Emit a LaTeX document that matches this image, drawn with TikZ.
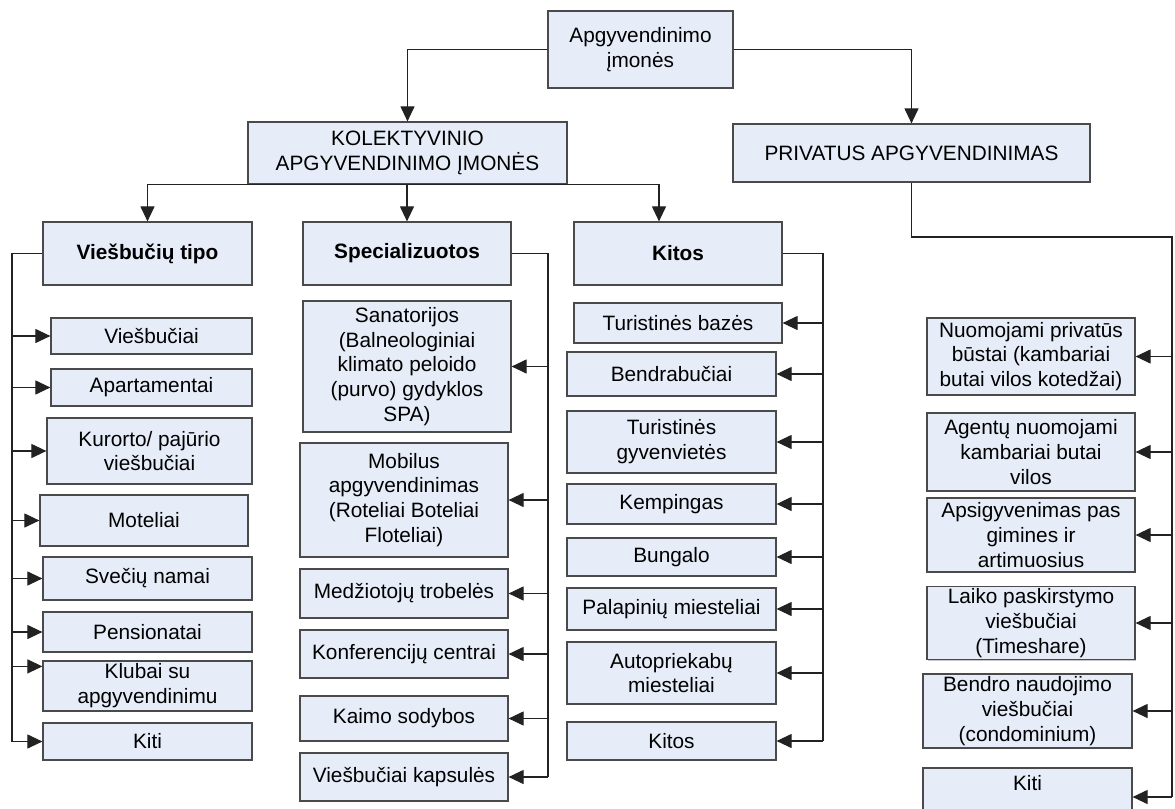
\documentclass[tikz,border=0pt]{standalone}
\usepackage{fontspec}
\setmainfont{Liberation Sans}
\usetikzlibrary{shadows, arrows.meta}
\definecolor{boxfill}{HTML}{E6EDF8}
\definecolor{boxline}{HTML}{4A4A4A}
\definecolor{wire}{HTML}{222222}

\begin{document}
\begin{tikzpicture}[
    x=0.5pt, y=-0.5pt,
    box/.style={
      draw=boxline, fill=boxfill, line width=0.6pt,
      inner sep=1pt, align=center,
      font=\fontsize{10.4}{12.4}\selectfont,
      drop shadow={shadow xshift=0.6pt, shadow yshift=-0.6pt, opacity=0.45}
    },
    head/.style={box, font=\fontsize{10.4}{12.4}\selectfont\bfseries},
    sz/.style 2 args={minimum width=#1*0.5pt, minimum height=#2*0.5pt},
    line/.style={wire, line width=0.55pt},
    arrow/.style={line, -{Triangle[length=7.5pt, width=7pt]}}
  ]
  \useasboundingbox (0,0) rectangle (1175,809);
  \clip (0,0) rectangle (1175,809);

  % top levels
  \node[box, sz={185}{77}] (top) at (640.5,49.5) {Apgyvendinimo\\įmonės};
  \node[box, sz={319}{62}] (kol) at (407.5,153) {KOLEKTYVINIO\\APGYVENDINIMO ĮMONĖS};
  \node[box, sz={357}{58}] (priv) at (911.5,153) {PRIVATUS APGYVENDINIMAS};

  \node[head, sz={209}{63}] (vt) at (147.5,253.5) {Viešbučių tipo};
  \node[head, sz={208}{63}] (sp) at (407,253.5) {Specializuotos};
  \node[head, sz={208}{63}] (ki) at (678,253.5) {Kitos};

  % viesbuciu tipo
  \node[box, sz={201}{36}] (v1) at (151.5,336) {Viešbučiai};
  \node[box, sz={201}{37}] (v2) at (151.5,387.5) {Apartamentai};
  \node[box, sz={205}{66}] (v3) at (149.5,451) {Kurorto/ pajūrio\\viešbučiai};
  \node[box, sz={208}{51}] (v4) at (144,520.5) {Moteliai};
  \node[box, sz={209}{43}] (v5) at (147.5,578.5) {Svečių namai};
  \node[box, sz={209}{40}] (v6) at (147.5,632) {Pensionatai};
  \node[box, sz={209}{50}] (v7) at (147.5,686) {Klubai su\\apgyvendinimu};
  \node[box, sz={209}{37}] (v8) at (147.5,741.5) {Kiti};

  % specializuotos
  \node[box, sz={208}{131}] (s1) at (407,366.5) {Sanatorijos\\(Balneologiniai\\klimato peloido\\(purvo) gydyklos\\SPA)};
  \node[box, sz={208}{114}] (s2) at (404,500) {Mobilus\\apgyvendinimas\\(Roteliai Boteliai\\Floteliai)};
  \node[box, sz={208}{49}] (s3) at (404,593.5) {Medžiotojų trobelės};
  \node[box, sz={208}{48}] (s4) at (404,654) {Konferencijų centrai};
  \node[box, sz={208}{45}] (s5) at (404,718.5) {Kaimo sodybos};
  \node[box, sz={208}{48}] (s6) at (404,777) {Viešbučiai kapsulės};

  % kitos
  \node[box, sz={208}{40}] (k1) at (678,323) {Turistinės bazės};
  \node[box, sz={209}{44}] (k2) at (671.5,374) {Bendrabučiai};
  \node[box, sz={209}{62}] (k3) at (671.5,442) {Turistinės\\gyvenvietės};
  \node[box, sz={209}{40}] (k4) at (671.5,504) {Kempingas};
  \node[box, sz={209}{38}] (k5) at (671.5,557) {Bungalo};
  \node[box, sz={209}{42}] (k6) at (671.5,609) {Palapinių miesteliai};
  \node[box, sz={209}{62}] (k7) at (671.5,673) {Autopriekabų\\miesteliai};
  \node[box, sz={209}{38}] (k8) at (671.5,741) {Kitos};

  % privatus
  \node[box, sz={208}{77}] (p1) at (1031,356.5) {Nuomojami privatūs\\būstai (kambariai\\butai vilos kotedžai)};
  \node[box, sz={208}{78}] (p2) at (1031,452) {Agentų nuomojami\\kambariai butai\\vilos};
  \node[box, sz={208}{74}] (p3) at (1031,535) {Apsigyvenimas pas\\gimines ir\\artimuosius};
  \node[box, sz={208}{72}] (p4) at (1031,623) {Laiko paskirstymo\\viešbučiai\\(Timeshare)};
  \node[box, sz={209}{74}] (p5) at (1027.5,711) {Bendro naudojimo\\viešbučiai\\(condominium)};
  \node[box, sz={209}{58}, text depth=14pt] (p6) at (1027.5,797) {Kiti};

  \coordinate (lbus) at (12,0);
  \coordinate (sbus) at (548,0);
  \coordinate (kbus) at (823,0);
  \coordinate (rbus) at (1172,237);
  \coordinate (v7in) at ([yshift=-3pt]v7.north west);

  \draw[arrow] (top.west) -| (kol.north);
  \draw[arrow] (top.east) -| (priv.north);
  \draw[arrow] (kol.south) -| (vt.north);
  \draw[arrow] (kol.south -| sp.north) -- (sp.north);
  \draw[arrow] (kol.south) -| ([xshift=-9.5pt]ki.north);

  \draw[line] (vt.west) -| (lbus |- v8.west);
  \foreach \n in {v1,v2,v3,v4,v5,v6,v8}
    \draw[arrow] (lbus |- \n.west) -- (\n.west);
  \draw[arrow] (lbus |- v7in) -- (v7in);

  \draw[line] (sp.east) -| (sbus |- s6.east);
  \foreach \n in {s1,s2,s3,s4,s5,s6}
    \draw[arrow] (sbus |- \n.east) -- (\n.east);

  \draw[line] (ki.east) -| (kbus |- k8.east);
  \foreach \n in {k1,k2,k3,k4,k5,k6,k7,k8}
    \draw[arrow] (kbus |- \n.east) -- (\n.east);

  \draw[line] (priv.south) |- (rbus) -- (rbus |- p6.east);
  \foreach \n in {p1,p2,p3,p4,p5,p6}
    \draw[arrow] (rbus |- \n.east) -- (\n.east);
\end{tikzpicture}
\end{document}
